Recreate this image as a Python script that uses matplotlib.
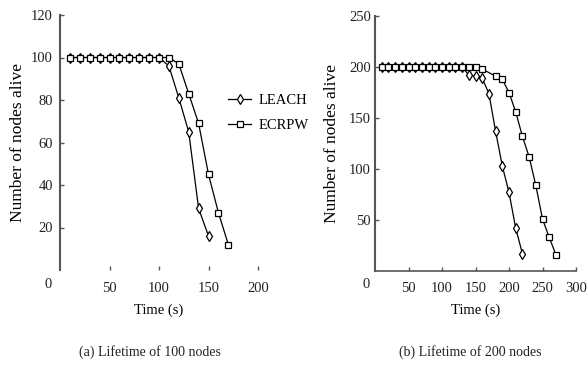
import matplotlib
matplotlib.use("Agg")
import matplotlib.pyplot as plt
from matplotlib.lines import Line2D

plt.rcParams['font.family'] = ['Liberation Serif', 'DejaVu Serif']

# ---- data: (a) 100 nodes ----
a_leach_x = [10, 20, 30, 40, 50, 60, 70, 80, 90, 100, 110, 120, 130, 140, 150]
a_leach_y = [100, 100, 100, 100, 100, 100, 100, 100, 100, 100, 96, 81, 65, 29, 16]
a_ecrpw_x = [10, 20, 30, 40, 50, 60, 70, 80, 90, 100, 110, 120, 130, 140, 150, 160, 170]
a_ecrpw_y = [100, 100, 100, 100, 100, 100, 100, 100, 100, 100, 100, 97, 83, 69, 45, 27, 12]

# ---- data: (b) 200 nodes ----
b_leach_x = [10, 20, 30, 40, 50, 60, 70, 80, 90, 100, 110, 120, 130, 140, 150, 160, 170, 180, 190, 200, 210, 220]
b_leach_y = [200, 200, 200, 200, 200, 200, 200, 200, 200, 200, 200, 200, 200, 192, 191, 189, 174, 137, 103, 77, 42, 17]
b_ecrpw_x = [10, 20, 30, 40, 50, 60, 70, 80, 90, 100, 110, 120, 130, 140, 150, 160, 180, 190, 200, 210, 220, 230, 240, 250, 260, 270]
b_ecrpw_y = [200, 200, 200, 200, 200, 200, 200, 200, 200, 200, 200, 200, 200, 200, 200, 198, 191, 188, 175, 156, 132, 112, 84, 51, 33, 16]

a_xticks = [50, 100, 150, 200]
a_yticks = [20, 40, 60, 80, 100, 120]
b_xticks = [50, 100, 150, 200, 250, 300]
b_yticks = [50, 100, 150, 200, 250]

series_names = ["LEACH", "ECRPW"]

W, H = 588, 367
fig = plt.figure(figsize=(W / 100, H / 100), dpi=100)

def box(l, t, r, b):
    return [l / W, 1 - b / H, (r - l) / W, (b - t) / H]

ax1 = fig.add_axes(box(60, 15, 258, 270))
ax2 = fig.add_axes(box(375, 16, 576, 271))

line_kw = dict(color='black', lw=0.9, markerfacecolor='white', markeredgecolor='black', markeredgewidth=0.9)
fs = 10.5
ms_d, ms_s = 5, 4.6

for ax in (ax1, ax2):
    for s in ('top', 'right'):
        ax.spines[s].set_visible(False)
    ax.spines['left'].set_color('#555555')
    ax.spines['left'].set_linewidth(1.5)
    ax.spines['bottom'].set_color('#555555')
    ax.spines['bottom'].set_linewidth(1.2)
    ax.tick_params(direction='in', length=3, width=1, colors='#555555', labelcolor='#222222', labelsize=fs, pad=5)

# (a)
ax1.plot(a_leach_x, a_leach_y, marker='d', markersize=ms_d, **line_kw)
ax1.plot(a_ecrpw_x, a_ecrpw_y, marker='s', markersize=ms_s, **line_kw)
ax1.set_xlim(0, 200)
ax1.set_ylim(0, 120)
ax1.set_xticks(a_xticks)
ax1.set_yticks(a_yticks)
ax1.spines['bottom'].set_visible(False)
ax1.tick_params(axis='x', pad=9)
ax1.set_ylabel('Number of nodes alive', fontsize=12.5, labelpad=4)
ax1.set_xlabel('Time (s)', fontsize=fs, labelpad=6)
fig.text(48 / W, 1 - 285 / H, '0', ha='center', va='center', fontsize=fs, color='#222222')

# (b)
ax2.plot(b_leach_x, b_leach_y, marker='d', markersize=ms_d, **line_kw)
ax2.plot(b_ecrpw_x, b_ecrpw_y, marker='s', markersize=ms_s, **line_kw)
ax2.set_xlim(0, 300)
ax2.set_ylim(0, 250)
ax2.set_xticks(b_xticks)
ax2.set_yticks(b_yticks)
ax2.tick_params(axis='x', pad=8)
ax2.tick_params(axis='y', pad=3)
ax2.set_ylabel('Number of nodes alive', fontsize=12.5, labelpad=6)
ax2.set_xlabel('Time (s)', fontsize=fs, labelpad=6)
fig.text(366 / W, 1 - 285 / H, '0', ha='center', va='center', fontsize=fs, color='#222222')

# legend
handles = [Line2D([], [], marker='d', markersize=ms_d, **line_kw),
           Line2D([], [], marker='s', markersize=ms_s, **line_kw)]
fig.legend(handles, series_names, loc='upper left', bbox_to_anchor=(228 / W, 1 - 94 / H),
           frameon=False, fontsize=fs, handlelength=1.6, handletextpad=0.5, labelspacing=0.8,
           borderaxespad=0, borderpad=0)

# captions
fig.text(150 / W, 1 - 352 / H, '(a) Lifetime of 100 nodes', ha='center', va='center', fontsize=10, color='#222222')
fig.text(470 / W, 1 - 352 / H, '(b) Lifetime of 200 nodes', ha='center', va='center', fontsize=10, color='#222222')

fig.savefig('out.png', dpi=100)
